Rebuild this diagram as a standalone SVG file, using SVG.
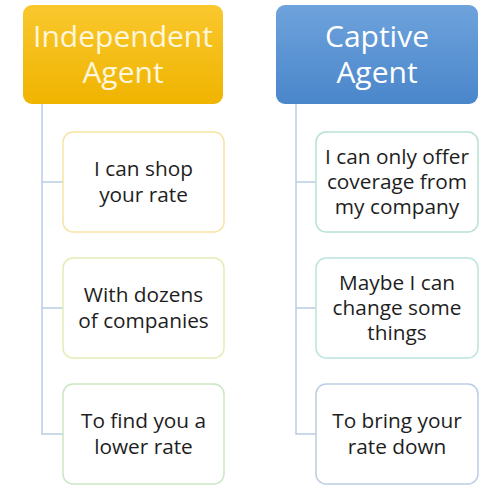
<svg xmlns="http://www.w3.org/2000/svg" width="499" height="488" viewBox="0 0 499 488">
<defs>
<linearGradient id="gy" x1="0" y1="0" x2="0" y2="1"><stop offset="0" stop-color="#f9c82e"/><stop offset="1" stop-color="#f0b400"/></linearGradient>
<linearGradient id="gb" x1="0" y1="0" x2="0" y2="1"><stop offset="0" stop-color="#6ea3dc"/><stop offset="1" stop-color="#4a86cb"/></linearGradient>
<style>
.hd{font-family:"Open Sans","Liberation Sans",sans-serif;font-size:30px;text-anchor:middle}
.ch{font-family:"Open Sans","Liberation Sans",sans-serif;font-size:20.8px;fill:#1e1e1e;text-anchor:middle}
.bx{fill:#fff;stroke-width:1.5}
.cn{fill:none;stroke:#b8cce4;stroke-width:1.5}
</style>
</defs>
<rect width="499" height="488" fill="#fff"/>
<g id="connectors">
<path class="cn" d="M42 104 V434 H63 M42 182 H63 M42 308 H63"/>
<path class="cn" d="M296 104 V434 H316 M296 182 H316 M296 308 H316"/>
</g>
<g id="independent">
<rect x="23" y="5" width="200" height="99" rx="9" fill="url(#gy)"/>
<text class="hd" fill="#fff6dc" x="123" y="47">Independent</text>
<text class="hd" fill="#fff6dc" x="123" y="83">Agent</text>
</g>
<g id="captive">
<rect x="276" y="5" width="202" height="99" rx="9" fill="url(#gb)"/>
<text class="hd" fill="#fff" x="377" y="47">Captive</text>
<text class="hd" fill="#fff" x="377" y="83">Agent</text>
</g>
<g id="ind1">
<rect class="bx" x="63" y="132" width="161" height="100" rx="10" stroke="#f7e3a3"/>
<text class="ch" x="143.5" y="176">I can shop</text>
<text class="ch" x="143.5" y="202">your rate</text>
</g>
<g id="ind2">
<rect class="bx" x="63" y="258" width="161" height="100" rx="10" stroke="#e4edb4"/>
<text class="ch" x="143.5" y="302">With dozens</text>
<text class="ch" x="143.5" y="328">of companies</text>
</g>
<g id="ind3">
<rect class="bx" x="63" y="384" width="161" height="100" rx="10" stroke="#cbe6c2"/>
<text class="ch" x="143.5" y="428">To find you a</text>
<text class="ch" x="143.5" y="454">lower rate</text>
</g>
<g id="cap1">
<rect class="bx" x="316" y="132" width="162" height="100" rx="10" stroke="#b7e2d3"/>
<text class="ch" x="397" y="164">I can only offer</text>
<text class="ch" x="397" y="189">coverage from</text>
<text class="ch" x="397" y="214">my company</text>
</g>
<g id="cap2">
<rect class="bx" x="316" y="258" width="162" height="100" rx="10" stroke="#bce4dd"/>
<text class="ch" x="397" y="290">Maybe I can</text>
<text class="ch" x="397" y="315">change some</text>
<text class="ch" x="397" y="340">things</text>
</g>
<g id="cap3">
<rect class="bx" x="316" y="384" width="162" height="100" rx="10" stroke="#bacde4"/>
<text class="ch" x="397" y="428">To bring your</text>
<text class="ch" x="397" y="454">rate down</text>
</g>
</svg>
